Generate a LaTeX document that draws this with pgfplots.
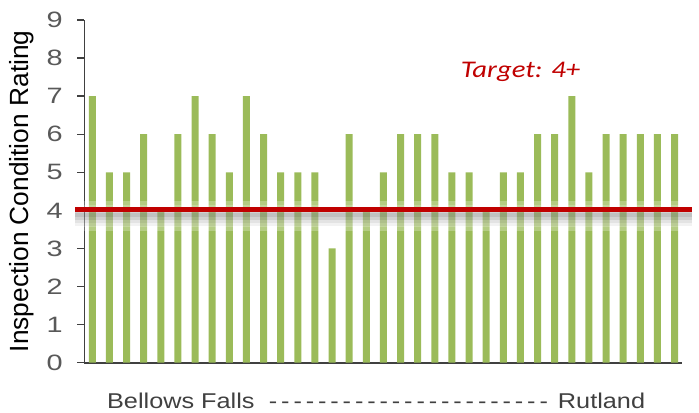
\documentclass[border=0pt]{standalone}
\usepackage{pgfplots}
\pgfplotsset{compat=1.18}
\usepackage{fontspec}
\setmainfont{Liberation Sans}
\newfontfamily\tickfont[FakeStretch=1.3]{Liberation Sans}
\newfontfamily\xfont[FakeStretch=1.18]{Liberation Sans}
\newfontfamily\tgtfont[FakeStretch=1.2]{Carlito}

\definecolor{barg}{HTML}{9BBB59}
\definecolor{tred}{HTML}{C00000}
\definecolor{axgray}{HTML}{404040}
\definecolor{lblgray}{HTML}{595959}

\begin{document}
\begin{tikzpicture}
\path[use as bounding box] (0,0) rectangle (699bp,413bp);
\begin{axis}[
    at={(84.3bp,50.3bp)}, anchor=south west,
    scale only axis, width=598bp, height=342.7bp,
    xmin=-0.47, xmax=34.45, ymin=0, ymax=9,
    axis x line*=bottom, axis y line*=left,
    axis line style={axgray, line width=1.6bp},
    xtick=\empty, ytick={0,1,...,9},
    tick align=outside, major tick length=7bp,
    ytick style={axgray, line width=1.4bp},
    yticklabel style={font=\tickfont\fontsize{22.3}{26}\selectfont, text=lblgray, xshift=-11bp},
    /pgf/number format/assume math mode=true,
    ylabel={Inspection Condition Rating},
    ylabel style={font=\fontsize{26.4}{30}\selectfont, text=black,
        at={(axis description cs:-0.105,0.5)}, anchor=center},
    xlabel={\hbox to 538bp{Bellows Falls\hskip 7bp\leaders\hbox to 12.3bp{\hss-\hss}\hfill\hskip 6bp Rutland}},
    xlabel style={font=\xfont\fontsize{21.5}{25}\selectfont, text=axgray,
        at={(axis description cs:0.488,-0.112)}, anchor=center},
    clip=false,
]
\addplot[ybar, bar width=7bp, fill=barg, draw=none] coordinates {
(0,7) (1,5) (2,5) (3,6) (4,4) (5,6) (6,7) (7,6) (8,5) (9,7)
(10,6) (11,5) (12,5) (13,5) (14,3) (15,6) (16,4) (17,5) (18,6) (19,6)
(20,6) (21,5) (22,5) (23,4) (24,5) (25,5) (26,6) (27,6) (28,7) (29,5)
(30,6) (31,6) (32,6) (33,6) (34,6)
};
% soft glow and shadow round the target line
\addplot[white, opacity=0.25, line width=30bp, no marks] coordinates {(-1.4,3.85) (35.3,3.85)};
\addplot[white, opacity=0.2, line width=22bp, no marks] coordinates {(-1.3,3.85) (35.2,3.85)};
\addplot[black, opacity=0.05, line width=18bp, no marks] coordinates {(-1.01,3.82) (35.0,3.82)};
\addplot[black, opacity=0.06, line width=13bp, no marks] coordinates {(-1.01,3.83) (35.0,3.83)};
\addplot[black, opacity=0.08, line width=8bp, no marks] coordinates {(-1.01,3.85) (35.0,3.85)};
\addplot[black, opacity=0.08, line width=4bp, no marks] coordinates {(-1.01,3.88) (35.0,3.88)};
% target line
\addplot[tred, line width=5.5bp, no marks] coordinates {(-1.01,4.02) (35.0,4.02)};
\node[text=tred, font=\tgtfont\itshape\fontsize{24}{28}\selectfont] at (axis cs:25,7.63) {Target: 4+};
\end{axis}
\end{tikzpicture}
\end{document}
